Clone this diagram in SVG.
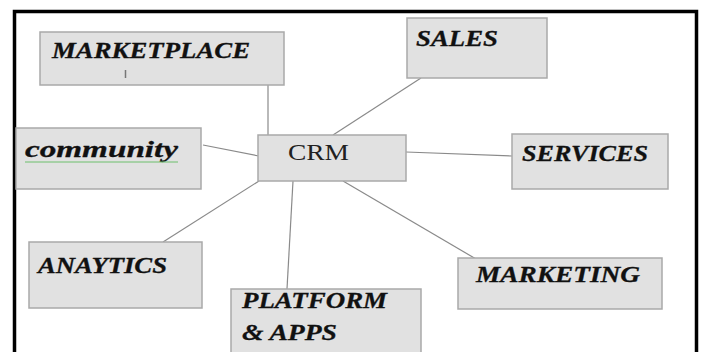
<svg xmlns="http://www.w3.org/2000/svg" width="701" height="352" viewBox="0 0 701 352">
<style>
.box{fill:#e1e1e1;stroke:#a9a9a9;stroke-width:1.5}
.lbl{font-family:"Liberation Serif","Times New Roman",serif;font-weight:bold;font-style:italic;font-size:24px;fill:#111;stroke:#111;stroke-width:0.3}
.crm{font-family:"Liberation Serif","Times New Roman",serif;font-size:24px;fill:#202020}
.con{stroke:#8a8a8a;stroke-width:1.2;fill:none}
</style>
<rect x="14.5" y="11.5" width="682" height="360" fill="#fff" stroke="#000" stroke-width="3.5"/>
<g id="connectors">
<line class="con" x1="268" y1="85" x2="268" y2="135"/>
<line class="con" x1="203" y1="145" x2="259" y2="156"/>
<line class="con" x1="421" y1="78" x2="333" y2="135"/>
<line class="con" x1="406" y1="152" x2="512" y2="156"/>
<line class="con" x1="259" y1="181" x2="163" y2="242"/>
<line class="con" x1="293" y1="181" x2="287" y2="289"/>
<line class="con" x1="343" y1="181" x2="476" y2="259"/>
</g>
<g id="marketplace">
<rect class="box" x="40" y="32" width="244" height="53"/>
<text class="lbl" x="52" y="58" textLength="198" lengthAdjust="spacingAndGlyphs">MARKETPLACE</text>
<line x1="125.5" y1="70" x2="125.5" y2="78" stroke="#777" stroke-width="1.5"/>
</g>
<g id="community">
<rect class="box" x="16" y="128" width="185" height="61"/>
<text class="lbl" x="25" y="157" textLength="153" lengthAdjust="spacingAndGlyphs">community</text>
<line x1="25" y1="162" x2="178" y2="162" stroke="#6cbf6c" stroke-width="1"/>
</g>
<g id="crm">
<rect class="box" x="258" y="135" width="148" height="46"/>
<text class="crm" x="288" y="160" textLength="61" lengthAdjust="spacingAndGlyphs">CRM</text>
</g>
<g id="sales">
<rect class="box" x="407" y="18" width="140" height="60"/>
<text class="lbl" x="416" y="46" textLength="82" lengthAdjust="spacingAndGlyphs">SALES</text>
</g>
<g id="services">
<rect class="box" x="512" y="134" width="156" height="55"/>
<text class="lbl" x="522" y="161" textLength="126" lengthAdjust="spacingAndGlyphs">SERVICES</text>
</g>
<g id="anaytics">
<rect class="box" x="29" y="242" width="173" height="66"/>
<text class="lbl" x="38" y="273" textLength="129" lengthAdjust="spacingAndGlyphs">ANAYTICS</text>
</g>
<g id="platform">
<rect class="box" x="231" y="289" width="190" height="80"/>
<text class="lbl" x="242" y="308" textLength="145" lengthAdjust="spacingAndGlyphs">PLATFORM</text>
<text class="lbl" x="242" y="340" textLength="95" lengthAdjust="spacingAndGlyphs">&amp; APPS</text>
</g>
<g id="marketing">
<rect class="box" x="458" y="258" width="204" height="51"/>
<text class="lbl" x="476" y="282" textLength="164" lengthAdjust="spacingAndGlyphs">MARKETING</text>
</g>
</svg>
